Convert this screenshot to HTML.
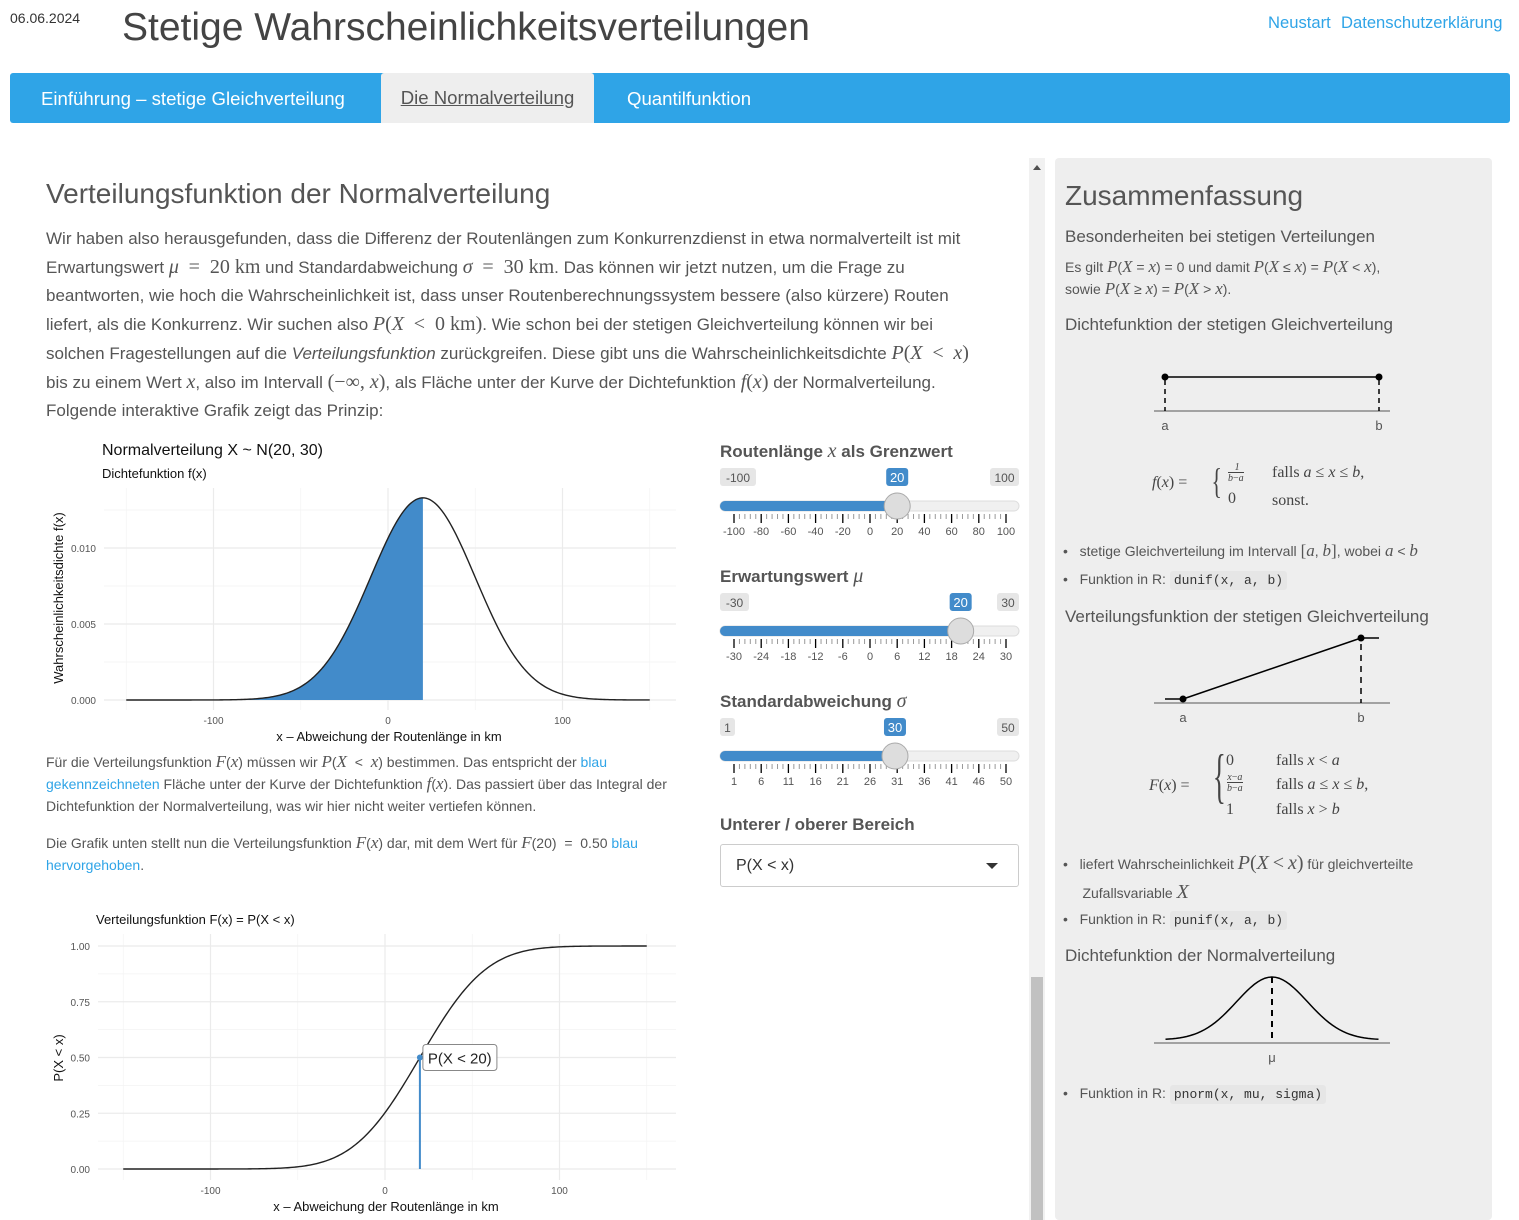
<!DOCTYPE html>
<html><head><meta charset="utf-8">
<style>
*{box-sizing:border-box;margin:0;padding:0}
body{width:1519px;height:1220px;overflow:hidden;background:#fff;font-family:"Liberation Sans",sans-serif;color:#555;position:relative}
.a{position:absolute;white-space:nowrap}
.m{font-family:"Liberation Serif",serif;font-style:italic;font-size:20px}
.mr{font-family:"Liberation Serif",serif;font-size:20px}
.p{font-size:17px;line-height:28px;color:#555}
.sm{font-size:14px;line-height:22px;color:#555}
.lnk{color:#2fa4e7}
code{font-family:"Liberation Mono",monospace;font-size:13px;background:#e6e6e6;border-radius:3px;padding:2px 4px;color:#333}
.li{font-size:14px;color:#555}
</style></head><body>
<div class="a" style="left:10px;top:10px;font-size:14px;color:#333">06.06.2024</div>
<div class="a" style="left:122px;top:6px;font-size:39px;color:#444">Stetige Wahrscheinlichkeitsverteilungen</div>
<div class="a lnk" style="left:1268px;top:13px;font-size:16.6px">Neustart</div>
<div class="a lnk" style="left:1341px;top:13px;font-size:16.6px">Datenschutzerklärung</div>
<div class="a" style="left:10px;top:73px;width:1500px;height:50px;background:#2fa4e7;border-radius:3px"></div>
<div class="a" style="left:41px;top:88px;font-size:18.6px;color:#fff">Einführung – stetige Gleichverteilung</div>
<div class="a" style="left:381px;top:73px;width:213px;height:50px;background:#eee;border-radius:3px 3px 0 0;font-size:18.6px;color:#555;text-decoration:underline;text-align:center;line-height:50px">Die Normalverteilung</div>
<div class="a" style="left:627px;top:88px;font-size:18.6px;color:#fff">Quantilfunktion</div>

<div class="a" style="left:46px;top:178px;font-size:28px;color:#555">Verteilungsfunktion der Normalverteilung</div>
<div class="a p" style="left:46px;top:225px">Wir haben also herausgefunden, dass die Differenz der Routenlängen zum Konkurrenzdienst in etwa normalverteilt ist mit<br>Erwartungswert <span class="m">μ</span> <span class="mr">&nbsp;=&nbsp; 20 km</span> und Standardabweichung <span class="m">σ</span> <span class="mr">&nbsp;=&nbsp; 30 km</span>. Das können wir jetzt nutzen, um die Frage zu<br>beantworten, wie hoch die Wahrscheinlichkeit ist, dass unser Routenberechnungssystem bessere (also kürzere) Routen<br>liefert, als die Konkurrenz. Wir suchen also <span class="m">P</span><span class="mr">(</span><span class="m">X</span> <span class="mr">&nbsp;&lt;&nbsp; 0 km)</span>. Wie schon bei der stetigen Gleichverteilung können wir bei<br>solchen Fragestellungen auf die <i>Verteilungsfunktion</i> zurückgreifen. Diese gibt uns die Wahrscheinlichkeitsdichte <span class="m">P</span><span class="mr">(</span><span class="m">X</span> <span class="mr">&nbsp;&lt;&nbsp;</span> <span class="m">x</span><span class="mr">)</span><br>bis zu einem Wert <span class="m">x</span>, also im Intervall <span class="mr">(−∞, </span><span class="m">x</span><span class="mr">)</span>, als Fläche unter der Kurve der Dichtefunktion <span class="m">f</span><span class="mr">(</span><span class="m">x</span><span class="mr">)</span> der Normalverteilung.<br>Folgende interaktive Grafik zeigt das Prinzip:</div>

<div class="a" style="left:102px;top:442px;font-size:16px;color:#111">Normalverteilung X ~ N(20, 30)</div>
<div class="a" style="left:102px;top:466px;font-size:13px;color:#111">Dichtefunktion f(x)</div>

<div class="a sm" style="left:46px;top:751px">Für die Verteilungsfunktion <span class="m" style="font-size:17px">F</span>(<span class="m" style="font-size:17px">x</span>) müssen wir <span class="m" style="font-size:17px">P</span>(<span class="m" style="font-size:17px">X</span> &nbsp;&lt;&nbsp; <span class="m" style="font-size:17px">x</span>) bestimmen. Das entspricht der <span class="lnk">blau</span><br><span class="lnk">gekennzeichneten</span> Fläche unter der Kurve der Dichtefunktion <span class="m" style="font-size:17px">f</span>(<span class="m" style="font-size:17px">x</span>). Das passiert über das Integral der<br>Dichtefunktion der Normalverteilung, was wir hier nicht weiter vertiefen können.</div>
<div class="a sm" style="left:46px;top:832px">Die Grafik unten stellt nun die Verteilungsfunktion <span class="m" style="font-size:17px">F</span>(<span class="m" style="font-size:17px">x</span>) dar, mit dem Wert für <span class="m" style="font-size:17px">F</span>(20) &nbsp;=&nbsp; 0.50 <span class="lnk">blau</span><br><span class="lnk">hervorgehoben</span>.</div>
<div class="a" style="left:96px;top:912px;font-size:13px;color:#111">Verteilungsfunktion F(x) = P(X &lt; x)</div>

<div class="a" style="left:720px;top:440px;font-size:17px;font-weight:bold;color:#555">Routenlänge <span class="m" style="font-weight:normal">x</span> als Grenzwert</div>
<div class="a" style="left:720px;top:565px;font-size:17px;font-weight:bold;color:#555">Erwartungswert <span class="m" style="font-weight:normal">μ</span></div>
<div class="a" style="left:720px;top:690px;font-size:17px;font-weight:bold;color:#555">Standardabweichung <span class="m" style="font-weight:normal">σ</span></div>
<div class="a" style="left:720px;top:815px;font-size:17px;font-weight:bold;color:#555">Unterer / oberer Bereich</div>
<div class="a" style="left:720px;top:844px;width:299px;height:43px;border:1px solid #ccc;border-radius:3px;font-size:16px;color:#333;padding:12px 15px">P(X &lt; x)<span style="position:absolute;right:20px;top:18px;border-left:6px solid transparent;border-right:6px solid transparent;border-top:6px solid #333"></span></div>

<div class="a" style="left:1029px;top:158px;width:16px;height:1062px;background:#f1f1f1"></div>
<div class="a" style="left:1031px;top:977px;width:12px;height:243px;background:#c1c1c1"></div>
<div class="a" style="left:1033px;top:165px;border-left:4px solid transparent;border-right:4px solid transparent;border-bottom:5px solid #505050"></div>

<div class="a" style="left:1055px;top:158px;width:437px;height:1062px;background:#eee;border-radius:4px"></div>
<div class="a" style="left:1065px;top:180px;font-size:28px;color:#555">Zusammenfassung</div>
<div class="a" style="left:1065px;top:227px;font-size:17px;color:#555">Besonderheiten bei stetigen Verteilungen</div>
<div class="a li" style="left:1065px;top:256px;line-height:22px">Es gilt <span class="m" style="font-size:17px">P</span>(<span class="m" style="font-size:17px">X</span> = <span class="m" style="font-size:17px">x</span>) = 0 und damit <span class="m" style="font-size:17px">P</span>(<span class="m" style="font-size:17px">X</span> ≤ <span class="m" style="font-size:17px">x</span>) = <span class="m" style="font-size:17px">P</span>(<span class="m" style="font-size:17px">X</span> &lt; <span class="m" style="font-size:17px">x</span>),<br>sowie <span class="m" style="font-size:17px">P</span>(<span class="m" style="font-size:17px">X</span> ≥ <span class="m" style="font-size:17px">x</span>) = <span class="m" style="font-size:17px">P</span>(<span class="m" style="font-size:17px">X</span> &gt; <span class="m" style="font-size:17px">x</span>).</div>
<div class="a" style="left:1065px;top:315px;font-size:17px;color:#555">Dichtefunktion der stetigen Gleichverteilung</div>
<div class="a" style="left:1152px;top:462px;font-family:'Liberation Serif',serif;font-size:16px;color:#444">
<span style="position:absolute;left:0;top:12px"><i>f</i>(<i>x</i>) =</span>
<span style="position:absolute;left:56px;top:-2px;font-size:36px;transform:scaleX(.6)">{</span>
<span style="position:absolute;left:76px;top:0;font-size:10px;text-align:center;line-height:11px"><i>&nbsp;1</i><br><span style="border-top:1px solid #444"><i>b</i>−<i>a</i></span></span>
<span style="position:absolute;left:76px;top:28px">0</span>
<span style="position:absolute;left:120px;top:2px">falls <i>a</i> ≤ <i>x</i> ≤ <i>b</i>,</span>
<span style="position:absolute;left:120px;top:30px">sonst.</span></div>
<div class="a li" style="left:1063px;top:541px">•&nbsp;&nbsp; stetige Gleichverteilung im Intervall <span class="mr" style="font-size:17px">[</span><span class="m" style="font-size:17px">a</span>, <span class="m" style="font-size:17px">b</span><span class="mr" style="font-size:17px">]</span>, wobei <span class="m" style="font-size:17px">a</span> &lt; <span class="m" style="font-size:17px">b</span></div>
<div class="a li" style="left:1063px;top:571px">•&nbsp;&nbsp; Funktion in R: <code>dunif(x, a, b)</code></div>
<div class="a" style="left:1065px;top:607px;font-size:17px;color:#555">Verteilungsfunktion der stetigen Gleichverteilung</div>
<div class="a" style="left:1149px;top:752px;font-family:'Liberation Serif',serif;font-size:16px;color:#444">
<span style="position:absolute;left:0;top:25px"><i>F</i>(<i>x</i>) =</span>
<span style="position:absolute;left:56px;top:-6px;font-size:60px;transform:scaleX(.45);line-height:60px">{</span>
<span style="position:absolute;left:77px;top:0">0</span>
<span style="position:absolute;left:78px;top:20px;font-size:10px;text-align:center;line-height:11px"><i>x</i>−<i>a</i><br><span style="border-top:1px solid #444"><i>b</i>−<i>a</i></span></span>
<span style="position:absolute;left:77px;top:49px">1</span>
<span style="position:absolute;left:127px;top:0">falls <i>x</i> &lt; <i>a</i></span>
<span style="position:absolute;left:127px;top:24px">falls <i>a</i> ≤ <i>x</i> ≤ <i>b</i>,</span>
<span style="position:absolute;left:127px;top:49px">falls <i>x</i> &gt; <i>b</i></span></div>
<div class="a li" style="left:1063px;top:849px;line-height:28px">•&nbsp;&nbsp; liefert Wahrscheinlichkeit <span class="m">P</span><span class="mr">(</span><span class="m">X</span> <span class="mr">&lt;</span> <span class="m">x</span><span class="mr">)</span> für gleichverteilte<br>&nbsp;&nbsp;&nbsp;&nbsp; Zufallsvariable <span class="m">X</span></div>
<div class="a li" style="left:1063px;top:911px">•&nbsp;&nbsp; Funktion in R: <code>punif(x, a, b)</code></div>
<div class="a" style="left:1065px;top:946px;font-size:17px;color:#555">Dichtefunktion der Normalverteilung</div>
<div class="a li" style="left:1063px;top:1085px">•&nbsp;&nbsp; Funktion in R: <code>pnorm(x, mu, sigma)</code></div>

<svg id="ov" class="a" style="left:0;top:0" width="1519" height="1220" xmlns="http://www.w3.org/2000/svg" font-family="Liberation Sans, sans-serif"></svg>

<script>
// chart data
const mu = [20];
const sigma = [30];
const xLimit = [20];
const densityTicks = [0, 0.005, 0.010];
const densityTickLabels = ["0.000", "0.005", "0.010"];
const cdfTicks = [0, 0.25, 0.5, 0.75, 1];
const cdfTickLabels = ["0.00", "0.25", "0.50", "0.75", "1.00"];
const xTicks = [-100, 0, 100];
const xMinor = [-150, -50, 50, 150];
const sliderXTicks = ["-100","-80","-60","-40","-20","0","20","40","60","80","100"];
const sliderMuTicks = ["-30","-24","-18","-12","-6","0","6","12","18","24","30"];
const sliderSigmaTicks = ["1","6","11","16","21","26","31","36","41","46","50"];

const NS = "http://www.w3.org/2000/svg";
const ov = document.getElementById('ov');
function mk(tag, attrs, parent){const e=document.createElementNS(NS,tag);for(const k in attrs)e.setAttribute(k,attrs[k]);(parent||ov).appendChild(e);return e;}
function txt(x,y,s,attrs,parent){const t=mk('text',Object.assign({x:x,y:y},attrs||{}),parent);t.textContent=s;return t;}

function pdf(x,m,s){return Math.exp(-0.5*((x-m)/s)**2)/(s*Math.sqrt(2*Math.PI));}
function erf(x){const t=1/(1+0.3275911*Math.abs(x));const y=1-(((((1.061405429*t-1.453152027)*t)+1.421413741)*t-0.284496736)*t+0.254829592)*t*Math.exp(-x*x);return x>=0?y:-y;}
function cdf(x,m,s){return 0.5*(1+erf((x-m)/(s*Math.SQRT2)));}

// ---- density chart
const d = {x0:388, kx:1.745, y0:700, ky:15200, left:104, right:676, top:488, bottom:710};
const dX = v => d.x0 + v*d.kx, dY = v => d.y0 - v*d.ky;
const g1 = mk('g',{});


[0.0025,0.0075,0.0125].forEach(v=>mk('line',{x1:d.left,x2:d.right,y1:dY(v),y2:dY(v),stroke:'#f3f3f3','stroke-width':0.7},g1));
xMinor.forEach(v=>mk('line',{x1:dX(v),x2:dX(v),y1:d.top,y2:d.bottom,stroke:'#f3f3f3','stroke-width':0.7},g1));
densityTicks.forEach((v,i)=>{mk('line',{x1:d.left,x2:d.right,y1:dY(v),y2:dY(v),stroke:'#ebebeb','stroke-width':1.2},g1);
  const t=txt(96,dY(v)+4,densityTickLabels[i],{'font-size':10,fill:'#555','text-anchor':'end'},g1);
  
  });
xTicks.forEach(v=>{mk('line',{x1:dX(v),x2:dX(v),y1:d.top,y2:d.bottom,stroke:'#ebebeb','stroke-width':1.2},g1);
  const t=txt(dX(v),724,String(v),{'font-size':10,fill:'#555','text-anchor':'middle'},g1);
  
  });
let area='M'+dX(-150)+','+dY(0);
for(let v=-150; v<=xLimit[0]; v+=1) area+=' L'+dX(v)+','+dY(pdf(v,mu[0],sigma[0]));
area+=' L'+dX(xLimit[0])+','+dY(pdf(xLimit[0],mu[0],sigma[0]))+' L'+dX(xLimit[0])+','+dY(0)+' Z';
const ar=mk('path',{d:area,fill:'#428bca',stroke:'none'},g1);


let line='';
for(let v=-150; v<=150; v+=1) line+=(v===-150?'M':' L')+dX(v)+','+dY(pdf(v,mu[0],sigma[0]));
const dl=mk('path',{d:line,fill:'none',stroke:'#222','stroke-width':1.4},g1);


const dxt=txt(389,741,'x – Abweichung der Routenlänge in km',{'font-size':13,fill:'#111','text-anchor':'middle'});


const dyt=txt(0,0,'Wahrscheinlichkeitsdichte f(x)',{'font-size':13,fill:'#111','text-anchor':'middle',transform:'translate(63,598) rotate(-90)'});



// ---- cdf chart
const c = {x0:385, kx:1.745, y0:1169, ky:223, left:98, right:676, top:934, bottom:1180};
const cX = v => c.x0 + v*c.kx, cY = v => c.y0 - v*c.ky;
const g2 = mk('g',{});


[0.125,0.375,0.625,0.875].forEach(v=>mk('line',{x1:c.left,x2:c.right,y1:cY(v),y2:cY(v),stroke:'#f3f3f3','stroke-width':0.7},g2));
xMinor.forEach(v=>mk('line',{x1:cX(v),x2:cX(v),y1:c.top,y2:c.bottom,stroke:'#f3f3f3','stroke-width':0.7},g2));
cdfTicks.forEach((v,i)=>{mk('line',{x1:c.left,x2:c.right,y1:cY(v),y2:cY(v),stroke:'#ebebeb','stroke-width':1.2},g2);
  const t=txt(90,cY(v)+4,cdfTickLabels[i],{'font-size':10,fill:'#555','text-anchor':'end'},g2);
  
  });
xTicks.forEach(v=>{mk('line',{x1:cX(v),x2:cX(v),y1:c.top,y2:c.bottom,stroke:'#ebebeb','stroke-width':1.2},g2);
  const t=txt(cX(v),1194,String(v),{'font-size':10,fill:'#555','text-anchor':'middle'},g2);
  
  });
let cl='';
for(let v=-150; v<=150; v+=1) cl+=(v===-150?'M':' L')+cX(v)+','+cY(cdf(v,mu[0],sigma[0]));
const cc=mk('path',{d:cl,fill:'none',stroke:'#222','stroke-width':1.4},g2);


const pv=cdf(xLimit[0],mu[0],sigma[0]);
const vl=mk('line',{x1:cX(xLimit[0]),x2:cX(xLimit[0]),y1:cY(0),y2:cY(pv),stroke:'#428bca','stroke-width':2},g2);


const pt=mk('circle',{cx:cX(xLimit[0]),cy:cY(pv),r:3,fill:'#428bca'},g2);


const lb=mk('rect',{x:cX(xLimit[0])+3,y:cY(pv)-13,width:74,height:26,rx:3,fill:'#fff',stroke:'#888','stroke-width':1},g2);


const lt=txt(cX(xLimit[0])+8,cY(pv)+6,'P(X < '+xLimit[0]+')',{'font-size':15,fill:'#222'},g2);


const cxt=txt(386,1211,'x – Abweichung der Routenlänge in km',{'font-size':13,fill:'#111','text-anchor':'middle'});


const cyt=txt(0,0,'P(X < x)',{'font-size':13,fill:'#111','text-anchor':'middle',transform:'translate(63,1058) rotate(-90)'});



// ---- sliders
function slider(name, y, min, max, val, labels){
  const L=734, R=1006, tx=v=>L+(v-min)/(max-min)*(R-L);
  const g=mk('g',{});
  
  
  mk('rect',{x:720,y:y-5,width:299,height:10,rx:5,fill:'#f0f0f0',stroke:'#ddd'},g);
  mk('rect',{x:720,y:y-5,width:tx(val)-720,height:10,rx:5,fill:'#428bca'},g);
  for(let i=0;i<=50;i++){const x=L+i*(R-L)/50;const major=i%5===0;
    mk('line',{x1:x,x2:x,y1:y+8,y2:y+(major?17:13),stroke:major?'#000':'#999','stroke-width':major?1.3:1},g);}
  labels.forEach((s,i)=>txt(L+i*(R-L)/10,y+29,s,{'font-size':11,fill:'#555','text-anchor':'middle'},g));
  const h=mk('circle',{cx:tx(val),cy:y,r:13,fill:'#ddd',stroke:'#aaa'},g);
  
  
  const mkbox=(x,s,blue,anchor)=>{const w=s.length*7+8;const bx=anchor==='end'?x-w:anchor==='mid'?x-w/2:x;
    mk('rect',{x:bx,y:y-38,width:w,height:18,rx:3,fill:blue?'#428bca':'#e6e6e6'},g);
    txt(bx+w/2,y-24,s,{'font-size':blue?13:12,fill:blue?'#fff':'#555','text-anchor':'middle'},g);};
  mkbox(720,String(min),false,'start');mkbox(1019,String(max),false,'end');mkbox(tx(val),String(val),true,'mid');
}
slider('slider-x',506,-100,100,xLimit[0],sliderXTicks);
slider('slider-mu',631,-30,30,mu[0],sliderMuTicks);
slider('slider-sigma',756,1,50,sigma[0],sliderSigmaTicks);

// ---- sidebar diagrams
const s1=mk('g',{});


mk('line',{x1:1154,x2:1390,y1:411,y2:411,stroke:'#888','stroke-width':1.5},s1);
mk('line',{x1:1165,x2:1379,y1:377,y2:377,stroke:'#000','stroke-width':1.5},s1);
mk('line',{x1:1165,x2:1165,y1:380,y2:411,stroke:'#000','stroke-width':1.5,'stroke-dasharray':'5,4'},s1);
mk('line',{x1:1379,x2:1379,y1:380,y2:411,stroke:'#000','stroke-width':1.5,'stroke-dasharray':'5,4'},s1);
mk('circle',{cx:1165,cy:377,r:3.5,fill:'#000'},s1);mk('circle',{cx:1379,cy:377,r:3.5,fill:'#000'},s1);
txt(1165,430,'a',{'font-size':13,fill:'#555','text-anchor':'middle'},s1);txt(1379,430,'b',{'font-size':13,fill:'#555','text-anchor':'middle'},s1);
const s2=mk('g',{});


mk('line',{x1:1154,x2:1390,y1:703,y2:703,stroke:'#888','stroke-width':1.5},s2);
mk('line',{x1:1165,x2:1183,y1:699,y2:699,stroke:'#000','stroke-width':1.5},s2);
mk('line',{x1:1183,x2:1361,y1:699,y2:638,stroke:'#000','stroke-width':1.5},s2);
mk('line',{x1:1361,x2:1379,y1:638,y2:638,stroke:'#000','stroke-width':1.5},s2);
mk('line',{x1:1361,x2:1361,y1:644,y2:703,stroke:'#000','stroke-width':1.5,'stroke-dasharray':'6,5'},s2);
mk('circle',{cx:1183,cy:699,r:3.5,fill:'#000'},s2);mk('circle',{cx:1361,cy:638,r:3.5,fill:'#000'},s2);
txt(1183,722,'a',{'font-size':13,fill:'#555','text-anchor':'middle'},s2);txt(1361,722,'b',{'font-size':13,fill:'#555','text-anchor':'middle'},s2);
const s3=mk('g',{});


mk('line',{x1:1154,x2:1390,y1:1043,y2:1043,stroke:'#888','stroke-width':1.5},s3);
let nl='';
for(let v=-3;v<=3.001;v+=0.1){const x=1272+v*35.5, y=1040-63*Math.exp(-0.5*v*v);nl+=(nl?' L':'M')+x+','+y;}
mk('path',{d:nl,fill:'none',stroke:'#000','stroke-width':1.5},s3);
mk('line',{x1:1272,x2:1272,y1:977,y2:1043,stroke:'#000','stroke-width':2,'stroke-dasharray':'6,5'},s3);
txt(1272,1062,'μ',{'font-size':13,fill:'#555','text-anchor':'middle'},s3);
</script>
</body></html>
